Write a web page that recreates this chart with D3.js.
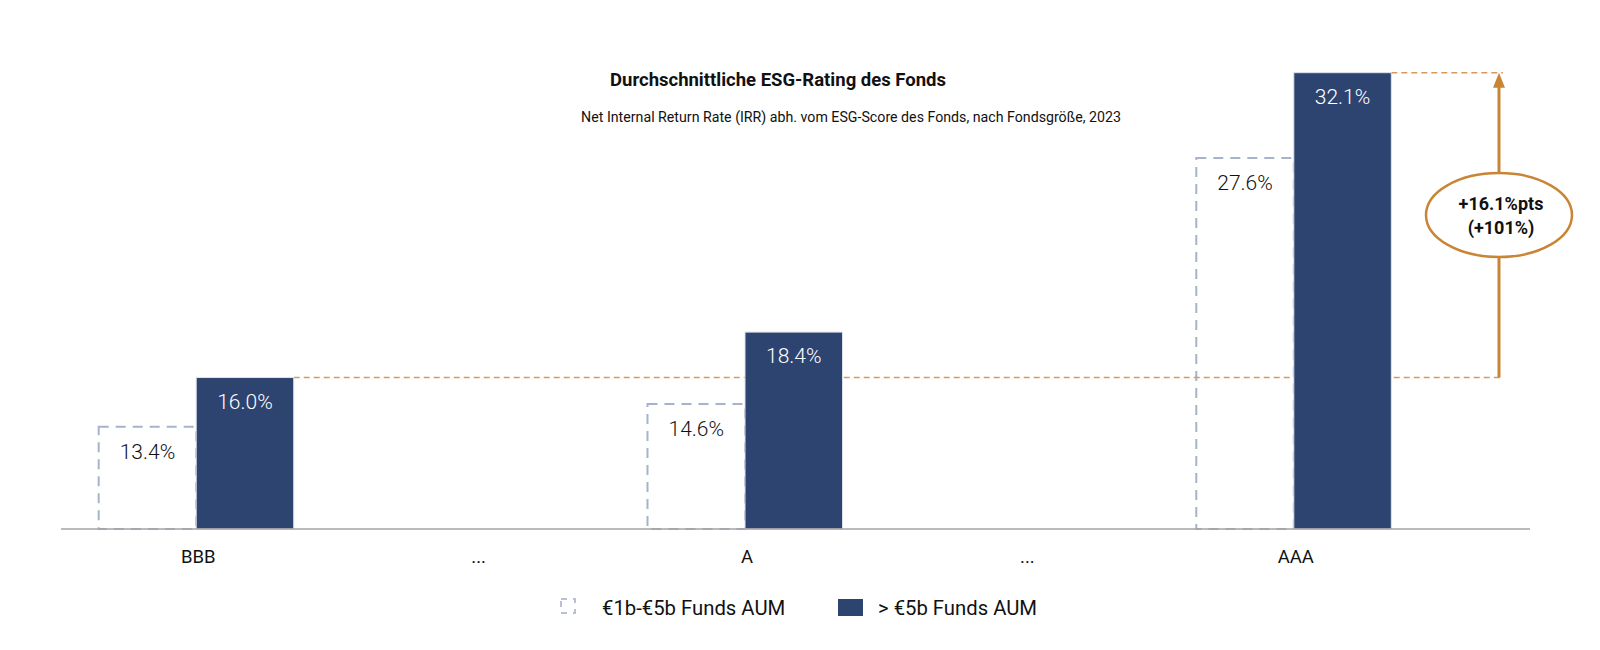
<!DOCTYPE html>
<html>
<head>
<meta charset="utf-8">
<script src="https://cdn.jsdelivr.net/npm/d3@7"></script>
<style>
  html, body { margin: 0; padding: 0; background: #fff; }
  svg { display: block; font-family: Roboto, "Open Sans", sans-serif; }
</style>
</head>
<body>
<div id="chart"></div>
<script>
// Chart data
const categoryKeys = ["BBB", "gap1", "A", "gap2", "AAA"];
const tickLabels = ["BBB", "...", "A", "...", "AAA"];
const ratedCategories = ["BBB", "A", "AAA"];
const smallFunds = [13.4, 14.6, 27.6];
const largeFunds = [16.0, 18.4, 32.1];
const seriesNames = ["€1b-€5b Funds AUM", "> €5b Funds AUM"];
const deltaLabel = ["+16.1%pts", "(+101%)"];

const width = 1600;
const height = 650;

const navy = "#2d4370";
const dashGrey = "#a7b2cb";
const orange = "#c98536";

const svg = d3
  .select("#chart")
  .append("svg")
  .attr("width", width)
  .attr("height", height)
  .attr("viewBox", `0 0 ${width} ${height}`);

// Scales
const x = d3.scaleBand().domain(categoryKeys).range([59, 1431]);
const xSub = d3
  .scaleBand()
  .domain(["small", "large"])
  .range([0, x.bandwidth()])
  .paddingInner(0)
  .paddingOuter(0.407);
const y = d3.scaleLinear().domain([8, 32.1]).range([529, 72.7]);

const rows = ratedCategories.map((c, i) => ({
  cat: c,
  small: smallFunds[i],
  large: largeFunds[i],
}));

// Titles
svg
  .append("text")
  .attr("x", 778)
  .attr("y", 86)
  .attr("text-anchor", "middle")
  .attr("font-size", 18.5)
  .attr("font-weight", 700)
  .attr("fill", "#111")
  .text("Durchschnittliche ESG-Rating des Fonds");

svg
  .append("text")
  .attr("x", 851)
  .attr("y", 122)
  .attr("text-anchor", "middle")
  .attr("font-size", 14.2)
  .attr("fill", "#111")
  .text(
    "Net Internal Return Rate (IRR) abh. vom ESG-Score des Fonds, nach Fondsgröße, 2023"
  );

const g = svg.append("g");

// Dashed outline bars (smaller funds)
g.append("g")
  .selectAll("rect")
  .data(rows)
  .enter()
  .append("rect")
  .attr("x", (d) => x(d.cat) + xSub("small"))
  .attr("y", (d) => y(d.small))
  .attr("width", xSub.bandwidth())
  .attr("height", (d) => y(8) - y(d.small))
  .attr("fill", "none")
  .attr("stroke", dashGrey)
  .attr("stroke-width", 2)
  .attr("stroke-dasharray", "10,7");

// Reference dashed line at BBB large-fund level and at the AAA top
const arrowX = x("AAA") + x.bandwidth() + 68;
const bbbRight = x("BBB") + xSub("large") + xSub.bandwidth();
const aaaRight = x("AAA") + xSub("large") + xSub.bandwidth();

g.append("line")
  .attr("x1", bbbRight)
  .attr("x2", arrowX + 4)
  .attr("y1", y(largeFunds[0]))
  .attr("y2", y(largeFunds[0]))
  .attr("stroke", "#d89a5c")
  .attr("stroke-width", 1.6)
  .attr("stroke-dasharray", "6,4");

g.append("line")
  .attr("x1", aaaRight)
  .attr("x2", arrowX + 4)
  .attr("y1", y(largeFunds[2]))
  .attr("y2", y(largeFunds[2]))
  .attr("stroke", "#d89a5c")
  .attr("stroke-width", 1.6)
  .attr("stroke-dasharray", "6,4");

// Solid bars (larger funds)
g.append("g")
  .selectAll("rect")
  .data(rows)
  .enter()
  .append("rect")
  .attr("x", (d) => x(d.cat) + xSub("large"))
  .attr("y", (d) => y(d.large))
  .attr("width", xSub.bandwidth())
  .attr("height", (d) => y(8) - y(d.large))
  .attr("fill", navy)
  .attr("stroke", "#dde2ea")
  .attr("stroke-width", 1);

// Value labels
g.append("g")
  .selectAll("text")
  .data(rows)
  .enter()
  .append("text")
  .attr("x", (d) => x(d.cat) + xSub("small") + xSub.bandwidth() / 2)
  .attr("y", (d) => y(d.small) + 32)
  .attr("text-anchor", "middle")
  .attr("font-size", 21)
  .attr("font-weight", 300)
  .attr("fill", "#111")
  .text((d) => d.small.toFixed(1) + "%");

g.append("g")
  .selectAll("text")
  .data(rows)
  .enter()
  .append("text")
  .attr("x", (d) => x(d.cat) + xSub("large") + xSub.bandwidth() / 2)
  .attr("y", (d) => y(d.large) + 31)
  .attr("text-anchor", "middle")
  .attr("font-size", 21)
  .attr("font-weight", 300)
  .attr("fill", "#fff")
  .text((d) => d.large.toFixed(1) + "%");

// Baseline
svg
  .append("line")
  .attr("x1", 61)
  .attr("x2", 1530)
  .attr("y1", y(8))
  .attr("y2", y(8))
  .attr("stroke", "#a3a3a3")
  .attr("stroke-width", 1.5);

// Category axis
const xAxis = d3
  .axisBottom(x)
  .tickSize(0)
  .tickPadding(0)
  .tickFormat((d, i) => tickLabels[i]);

const axisG = svg
  .append("g")
  .attr("transform", `translate(0,${y(8)})`)
  .call(xAxis);
axisG.select(".domain").remove();
axisG
  .selectAll("text")
  .attr("font-family", "Roboto, sans-serif")
  .attr("font-size", 18.5)
  .attr("fill", "#111")
  .attr("dy", 34)
  .attr("dx", (d) => (d.startsWith("gap") ? 8 : 2));

// Delta arrow with ellipse label
svg
  .append("line")
  .attr("x1", arrowX)
  .attr("x2", arrowX)
  .attr("y1", y(largeFunds[0]))
  .attr("y2", y(largeFunds[2]) + 12)
  .attr("stroke", orange)
  .attr("stroke-width", 3);

svg
  .append("path")
  .attr(
    "d",
    `M${arrowX},${y(largeFunds[2])} L${arrowX - 6},${y(largeFunds[2]) + 15} L${arrowX + 6},${y(largeFunds[2]) + 15} Z`
  )
  .attr("fill", orange);

const ellipseY = 215;
svg
  .append("ellipse")
  .attr("cx", arrowX)
  .attr("cy", ellipseY)
  .attr("rx", 73)
  .attr("ry", 42)
  .attr("fill", "#fff")
  .attr("stroke", orange)
  .attr("stroke-width", 2.5);

svg
  .append("g")
  .selectAll("text")
  .data(deltaLabel)
  .enter()
  .append("text")
  .attr("x", arrowX + 2)
  .attr("y", (d, i) => ellipseY - 5 + i * 24)
  .attr("text-anchor", "middle")
  .attr("font-size", 18)
  .attr("font-weight", 700)
  .attr("fill", "#111")
  .text((d) => d);

// Legend
const legend = svg.append("g");
legend
  .append("rect")
  .attr("x", 561)
  .attr("y", 599)
  .attr("width", 14)
  .attr("height", 14)
  .attr("fill", "none")
  .attr("stroke", "#b8c0d3")
  .attr("stroke-width", 2)
  .attr("stroke-dasharray", "6,6");
legend
  .append("text")
  .attr("x", 602)
  .attr("y", 615)
  .attr("font-size", 20.3)
  .attr("fill", "#111")
  .text(seriesNames[0]);
legend
  .append("rect")
  .attr("x", 838)
  .attr("y", 599)
  .attr("width", 25)
  .attr("height", 17)
  .attr("fill", navy);
legend
  .append("text")
  .attr("x", 878)
  .attr("y", 615)
  .attr("font-size", 20.3)
  .attr("fill", "#111")
  .text(seriesNames[1]);
</script>
</body>
</html>
